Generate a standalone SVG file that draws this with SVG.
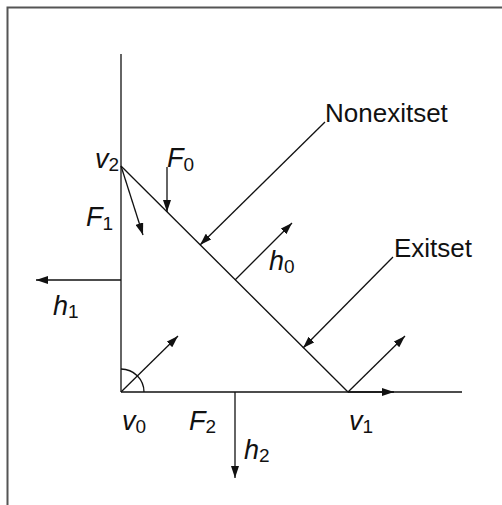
<svg xmlns="http://www.w3.org/2000/svg" width="502" height="505" viewBox="0 0 502 505">
<defs>
<style>
.ln{stroke:#111;stroke-width:1.3;fill:none}
.ar{stroke:#111;stroke-width:1.3;fill:none;marker-end:url(#ah)}
.frame{stroke:#555;stroke-width:2;fill:none}
text{font-family:"Liberation Sans",Arial,sans-serif;font-size:27px;fill:#111}
.plain{font-size:26px}
.it{font-style:italic}
.sb{font-size:19px;font-style:normal}
</style>
<marker id="ah" viewBox="0 0 12 8" refX="12" refY="4" markerWidth="12" markerHeight="8" markerUnits="userSpaceOnUse" orient="auto">
<path d="M0,0 L12,4 L0,8 Z" fill="#111"/>
</marker>
</defs>
<rect width="502" height="505" fill="#fff"/>
<path class="frame" d="M7.5,505 V7.5 H502"/>
<g id="axes">
<line class="ln" x1="121" y1="54" x2="121" y2="392"/>
<line class="ln" x1="121" y1="392" x2="462" y2="392"/>
<line class="ln" x1="121" y1="166" x2="348" y2="392"/>
<path class="ln" d="M144,392 A23,23 0 0 0 121,369"/>
</g>
<g id="connectors">
<line class="ar" x1="348" y1="392" x2="394" y2="392"/>
<line class="ar" x1="121" y1="166" x2="143" y2="235"/>
<line class="ar" x1="167" y1="167" x2="167" y2="212"/>
<line class="ar" x1="325" y1="122" x2="200" y2="245"/>
<line class="ar" x1="235" y1="280" x2="292" y2="223"/>
<line class="ar" x1="393" y1="257" x2="303" y2="348"/>
<line class="ar" x1="348" y1="392" x2="405" y2="336"/>
<line class="ar" x1="121" y1="392" x2="178" y2="336"/>
<line class="ar" x1="121" y1="280" x2="36" y2="280"/>
<line class="ar" x1="235" y1="392" x2="235" y2="478"/>
</g>
<g id="labels">
<text id="v2" x="95" y="168"><tspan class="it">v</tspan><tspan class="sb" dy="3">2</tspan></text>
<text id="F0" x="167" y="167"><tspan class="it">F</tspan><tspan class="sb" dy="4">0</tspan></text>
<text id="F1" x="86" y="226"><tspan class="it">F</tspan><tspan class="sb" dy="4">1</tspan></text>
<text id="h1" x="53" y="315"><tspan class="it">h</tspan><tspan class="sb" dy="3">1</tspan></text>
<text id="h0" x="269" y="270"><tspan class="it">h</tspan><tspan class="sb" dy="3">0</tspan></text>
<text id="v0" x="122" y="430"><tspan class="it">v</tspan><tspan class="sb" dy="3">0</tspan></text>
<text id="F2" x="189" y="430"><tspan class="it">F</tspan><tspan class="sb" dy="3">2</tspan></text>
<text id="h2" x="244" y="459"><tspan class="it">h</tspan><tspan class="sb" dy="3">2</tspan></text>
<text id="v1" x="349" y="430"><tspan class="it">v</tspan><tspan class="sb" dy="3">1</tspan></text>
<text id="nonexit" class="plain" x="325" y="122">Nonexitset</text>
<text id="exit" class="plain" x="394" y="257">Exitset</text>
</g>
</svg>
